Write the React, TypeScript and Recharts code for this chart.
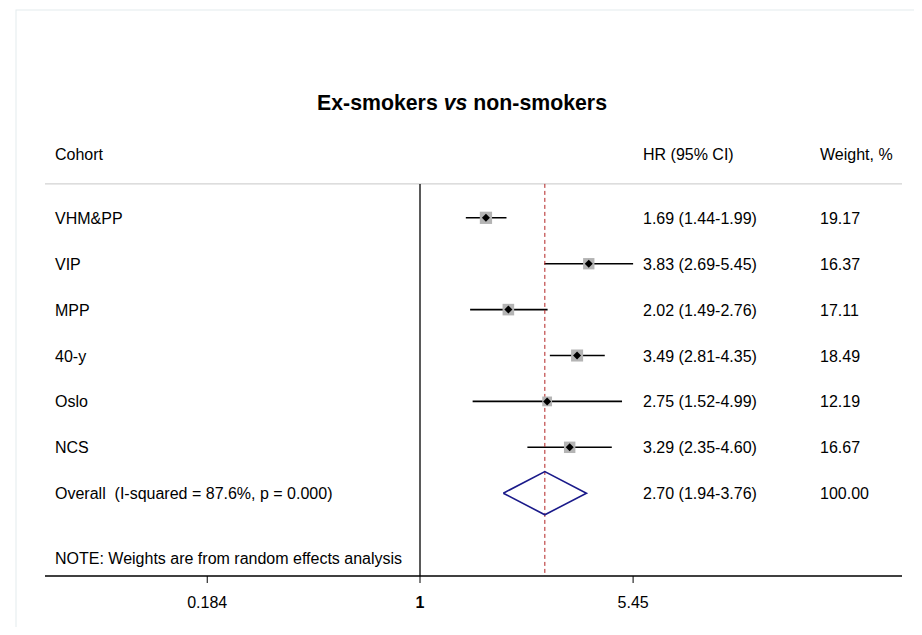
import React from 'react';
import {
  ComposedChart,
  Scatter,
  XAxis,
  YAxis,
  ReferenceLine,
  Customized,
} from 'recharts';

// study rows, top to bottom
const cohorts = ['VHM&PP', 'VIP', 'MPP', '40-y', 'Oslo', 'NCS'];
const hrValues = [1.69, 3.83, 2.02, 3.49, 2.75, 3.29];
const ciLower = [1.44, 2.69, 1.49, 2.81, 1.52, 2.35];
const ciUpper = [1.99, 5.45, 2.76, 4.35, 4.99, 4.6];
const weights = [19.17, 16.37, 17.11, 18.49, 12.19, 16.67];

// pooled estimate
const overallLabel = 'Overall  (I-squared = 87.6%, p = 0.000)';
const overallHr = 2.7;
const overallLower = 1.94;
const overallUpper = 3.76;
const overallWeight = 100.0;

const xTicks = [0.184, 1, 5.45];

const FONT = '"Liberation Sans", Arial, sans-serif';
const X_DOMAIN: [number, number] = [0.0506, 46.3];
const Y_DOMAIN: [number, number] = [-1.957, 7.804];
const DIVIDER_Y = -0.739;
const DIAMOND_HALF = 0.47;

const fmt = (v: number) => v.toFixed(2);

const studyRows = cohorts.map((name, i) => ({
  x: hrValues[i],
  y: i,
  name,
  weight: weights[i],
  hrText: `${fmt(hrValues[i])} (${fmt(ciLower[i])}-${fmt(ciUpper[i])})`,
}));

const overallRow = cohorts.length;

const textRows = [
  ...studyRows,
  {
    x: overallHr,
    y: overallRow,
    name: overallLabel,
    weight: overallWeight,
    hrText: `${fmt(overallHr)} (${fmt(overallLower)}-${fmt(overallUpper)})`,
  },
];

const diamondPts = [
  { x: overallLower, y: overallRow },
  { x: overallHr, y: overallRow - DIAMOND_HALF },
  { x: overallUpper, y: overallRow },
  { x: overallHr, y: overallRow + DIAMOND_HALF },
  { x: overallLower, y: overallRow },
];

const StudyMarker = (props: any) => {
  const { cx, cy, payload } = props;
  const s = 2.8 * Math.sqrt(payload.weight);
  const d = 4;
  return (
    <g>
      <rect x={cx - s / 2} y={cy - s / 2} width={s} height={s} fill="#b4b4b4" />
      <polygon
        points={`${cx - d},${cy} ${cx},${cy - d} ${cx + d},${cy} ${cx},${cy + d}`}
        fill="#000"
      />
    </g>
  );
};

const RowText = (props: any) => {
  const { cy, payload } = props;
  return (
    <g fontFamily={FONT} fontSize={16} fill="#000">
      <text x={47} y={cy + 6} xmlSpace="preserve">{payload.name}</text>
      <text x={635} y={cy + 6}>{payload.hrText}</text>
      <text x={812} y={cy + 6}>{fmt(payload.weight)}</text>
    </g>
  );
};

const XTick = (props: any) => {
  const { x, y, payload } = props;
  return (
    <text
      x={x}
      y={y + 23}
      textAnchor="middle"
      fontFamily={FONT}
      fontSize={16}
      fontWeight={payload.value === 1 ? 'bold' : 'normal'}
      fill="#000"
    >
      {payload.value}
    </text>
  );
};

const Decorations = () => (
  <g fontFamily={FONT} fill="#000">
    <rect x={8} y={2} width={2000} height={2000} fill="none" stroke="#e3ebed" />
    <text x={454} y={102} textAnchor="middle" fontSize={21.3} fontWeight="bold">
      Ex-smokers <tspan fontStyle="italic">vs</tspan> non-smokers
    </text>
    <text x={47} y={152} fontSize={16}>Cohort</text>
    <text x={635} y={152} fontSize={16}>HR (95% CI)</text>
    <text x={812} y={152} fontSize={16}>Weight, %</text>
    <text x={47} y={556} fontSize={16}>
      NOTE: Weights are from random effects analysis
    </text>
  </g>
);

export default function App() {
  return (
    <ComposedChart
      width={906}
      height={619}
      margin={{ top: 120, right: 12, bottom: 20, left: 37 }}
      style={{ background: '#fff' }}
    >
      <XAxis
        type="number"
        dataKey="x"
        scale="log"
        domain={X_DOMAIN}
        allowDataOverflow
        ticks={xTicks}
        interval={0}
        height={31}
        tickSize={7}
        axisLine={{ stroke: '#000', strokeWidth: 1.3 }}
        tickLine={{ stroke: '#000', strokeWidth: 1 }}
        tick={<XTick />}
      />
      <YAxis type="number" dataKey="y" domain={Y_DOMAIN} reversed hide allowDataOverflow />

      <ReferenceLine y={DIVIDER_Y} stroke="#c8c8c8" strokeWidth={1} />
      <ReferenceLine
        segment={[
          { x: 1, y: DIVIDER_Y },
          { x: 1, y: Y_DOMAIN[1] },
        ]}
        stroke="#000"
        strokeWidth={1.3}
      />
      {cohorts.map((c, i) => (
        <ReferenceLine
          key={c}
          segment={[
            { x: ciLower[i], y: i },
            { x: ciUpper[i], y: i },
          ]}
          stroke="#000"
          strokeWidth={1.6}
        />
      ))}

      <Scatter data={studyRows} shape={<StudyMarker />} isAnimationActive={false} />
      <Scatter
        data={diamondPts}
        line={{ stroke: '#1a1a8a', strokeWidth: 1.6 }}
        lineType="joint"
        shape={() => <g />}
        isAnimationActive={false}
      />
      <ReferenceLine
        segment={[
          { x: overallHr, y: DIVIDER_Y },
          { x: overallHr, y: Y_DOMAIN[1] },
        ]}
        stroke="#b22222"
        strokeWidth={1}
        strokeDasharray="4 3"
      />
      <Scatter data={textRows} shape={<RowText />} isAnimationActive={false} />
      <Customized component={<Decorations />} />
    </ComposedChart>
  );
}
